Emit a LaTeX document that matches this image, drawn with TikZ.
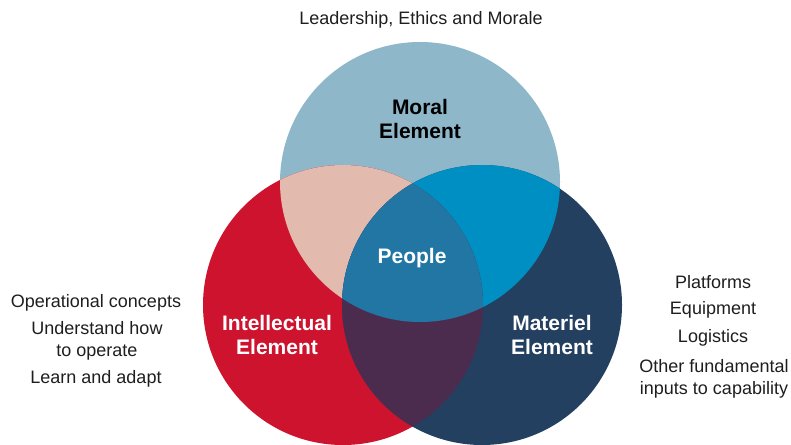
\documentclass[tikz,border=0pt]{standalone}
\usepackage{fontspec}
\setmainfont{Liberation Sans}
\usetikzlibrary{positioning,calc}

\definecolor{moralblue}{RGB}{142,183,202}
\definecolor{intelred}{RGB}{205,19,46}
\definecolor{matnavy}{RGB}{35,64,96}
\definecolor{moralintel}{RGB}{227,186,174}
\definecolor{moralmat}{RGB}{0,143,194}
\definecolor{intelmat}{RGB}{76,44,78}
\definecolor{peopleblue}{RGB}{34,118,164}
\definecolor{notegray}{RGB}{30,30,30}

\begin{document}
\begin{tikzpicture}[x=1pt, y=-1pt,
  venn/.style={circle, minimum size=280pt, inner sep=0pt},
  elem/.style={font=\fontsize{21}{24}\selectfont\bfseries, align=center, text=white},
  note/.style={font=\fontsize{18}{22.5}\selectfont, align=center, text=notegray}]

  \useasboundingbox (0,0) rectangle (791,444);

  % Define the three circles
  \node[venn, fill=moralblue] (moral) at (420,182) {};
  \node[venn, fill=intelred] (intel) at (343,305) {};
  \node[venn, fill=matnavy] (mat) at (482,305) {};

  % Overlaps
  \begin{scope}
    \clip (moral.center) circle (140);
    \fill[moralintel] (intel.center) circle (140);
    \fill[moralmat] (mat.center) circle (140);
  \end{scope}
  \begin{scope}
    \clip (intel.center) circle (140);
    \fill[intelmat] (mat.center) circle (140);
    \clip (moral.center) circle (140);
    \fill[peopleblue] (mat.center) circle (140);
  \end{scope}

  % Labels inside the circles
  \node[elem, text=black] (morallbl) at (420,119) {Moral\\Element};
  \node[elem] (people) at (412,258) {People};
  \node[elem] (intellbl) at (277,335) {Intellectual\\Element};
  \node[elem] (matlbl) at (552,335) {Materiel\\Element};

  % Notes around the circles
  \node[note] (lead) at (421,20) {Leadership, Ethics and Morale};
  \node[note] (opcon) at (96,303) {Operational concepts};
  \node[note] (underst) at (97,341) {Understand how\\to operate};
  \node[note] (learn) at (96,379) {Learn and adapt};
  \node[note] (platf) at (713,282) {Platforms};
  \node[note] (equip) at (713,310) {Equipment};
  \node[note] (logist) at (713,338) {Logistics};
  \node[note] (other) at (714,379) {Other fundamental\\inputs to capability};
\end{tikzpicture}
\end{document}
